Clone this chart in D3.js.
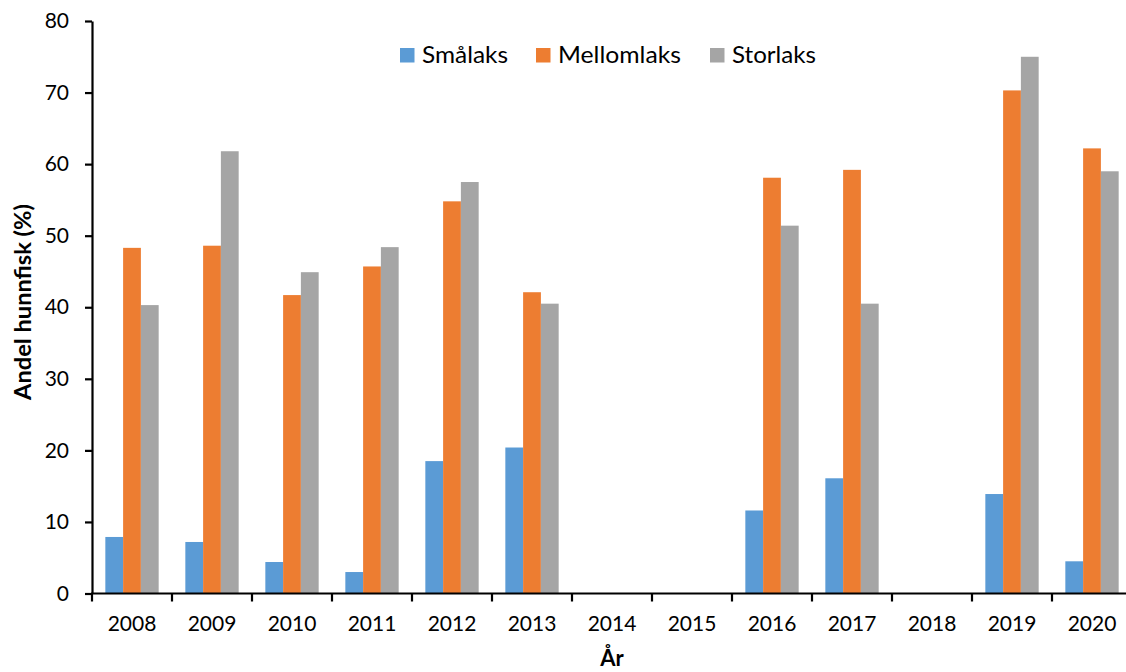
<!DOCTYPE html>
<html>
<head>
<meta charset="utf-8">
<script src="https://cdn.jsdelivr.net/npm/d3@7"></script>
<style>
  html, body { margin: 0; padding: 0; background: #fff; }
  svg { display: block; }
  text { font-family: Lato, "Open Sans", sans-serif; fill: #000; }
</style>
</head>
<body>
<svg id="chart" width="1126" height="672"></svg>
<script>
// Years on the x axis
const years = ["2008","2009","2010","2011","2012","2013","2014","2015","2016","2017","2018","2019","2020"];
// Share of females (%) per size class; null = no data that year
const smalaks    = [7.9, 7.2, 4.4, 3.0, 18.5, 20.4, null, null, 11.6, 16.1, null, 13.9, 4.5];
const mellomlaks = [48.3, 48.6, 41.7, 45.7, 54.8, 42.1, null, null, 58.1, 59.2, null, 70.3, 62.2];
const storlaks   = [40.3, 61.8, 44.9, 48.4, 57.5, 40.5, null, null, 51.4, 40.5, null, 75.0, 59.0];
const seriesNames = ["Smålaks", "Mellomlaks", "Storlaks"];
const seriesColors = ["#5B9BD5", "#ED7D31", "#A5A5A5"];
const yTicks = [0, 10, 20, 30, 40, 50, 60, 70, 80];

const seriesValues = [smalaks, mellomlaks, storlaks];

const svg = d3.select("#chart");
const plotLeft = 92, plotBottom = 593.5, plotTop = 21;
const step = 80;

const x = d3.scaleBand().domain(years).range([plotLeft, plotLeft + step * years.length]).padding(0);
const xs = d3.scaleBand().domain(seriesNames).range([0, x.bandwidth()]).paddingInner(0).paddingOuter(0.75);
const y = d3.scaleLinear().domain([0, 80]).range([plotBottom, plotTop]);

// Bars
seriesNames.forEach((name, si) => {
  const data = years.map((yr, i) => ({ year: yr, v: seriesValues[si][i] })).filter(d => d.v !== null);
  svg.append("g").selectAll("rect").data(data).join("rect")
    .attr("x", d => x(d.year) + xs(name))
    .attr("y", d => y(d.v))
    .attr("width", xs.bandwidth())
    .attr("height", d => y(0) - y(d.v))
    .attr("fill", seriesColors[si]);
});

// Y axis
const yAxis = d3.axisLeft(y).tickValues(yTicks).tickSizeInner(7).tickSizeOuter(0).tickPadding(16);
const gy = svg.append("g").attr("transform", `translate(${plotLeft},0)`).call(yAxis);
gy.select(".domain").attr("stroke", "#000").attr("stroke-width", 2.2);
gy.selectAll(".tick line").attr("stroke", "#000").attr("stroke-width", 2.2);
gy.selectAll(".tick text").attr("font-size", 21).attr("font-family", "Lato, sans-serif").attr("fill", "#000");

// X axis labels
const xAxis = d3.axisBottom(x).tickSize(0).tickPadding(23);
const gx = svg.append("g").attr("transform", `translate(0,${plotBottom})`).call(xAxis);
gx.select(".domain").remove();
gx.selectAll(".tick text").attr("font-size", 21).attr("font-family", "Lato, sans-serif").attr("fill", "#000");

// X axis line and category boundary ticks
svg.append("line")
  .attr("x1", plotLeft - 1).attr("x2", 1126).attr("y1", plotBottom).attr("y2", plotBottom)
  .attr("stroke", "#000").attr("stroke-width", 2.2);
svg.append("g").selectAll("line").data(years).join("line")
  .attr("x1", d => x(d)).attr("x2", d => x(d))
  .attr("y1", plotBottom).attr("y2", plotBottom + 8)
  .attr("stroke", "#000").attr("stroke-width", 2.2);

// Axis titles
svg.append("text")
  .attr("transform", "translate(31,302) rotate(-90)")
  .attr("text-anchor", "middle")
  .attr("font-size", 22).attr("font-weight", "bold")
  .attr("textLength", 196).attr("lengthAdjust", "spacingAndGlyphs")
  .text("Andel hunnfisk (%)");
svg.append("text")
  .attr("x", 612).attr("y", 666)
  .attr("text-anchor", "middle")
  .attr("font-size", 22).attr("font-weight", "bold")
  .text("År");

// Legend
const legendX = [400, 536, 710];
const legendTextW = [86, 123, 84];
const lg = svg.append("g");
seriesNames.forEach((name, i) => {
  lg.append("rect").attr("x", legendX[i]).attr("y", 48).attr("width", 14.5).attr("height", 14.5)
    .attr("fill", seriesColors[i]);
  lg.append("text").attr("x", legendX[i] + 22).attr("y", 63)
    .attr("font-size", 23)
    .attr("textLength", legendTextW[i]).attr("lengthAdjust", "spacingAndGlyphs")
    .text(name);
});
</script>
</body>
</html>
